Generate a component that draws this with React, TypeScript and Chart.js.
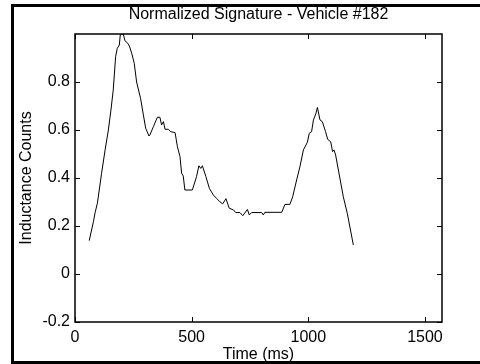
import React, { useEffect, useRef } from "react";
import { Chart, registerables } from "chart.js";

Chart.register(...registerables);

const TITLE = "Normalized Signature - Vehicle #182";
const X_LABEL = "Time (ms)";
const Y_LABEL = "Inductance Counts";

const X_TICKS = [0, 500, 1000, 1500];
const Y_TICKS = [-0.2, 0, 0.2, 0.4, 0.6, 0.8];

const timeMs = [
  61, 79, 86, 96, 114, 129, 143, 154, 164, 174, 181, 190, 194, 200, 207, 214, 224, 233, 243, 254,
  264, 281, 293, 303, 317, 321, 336, 353, 364, 371, 379, 386, 400, 410, 429, 439, 450, 457, 464, 471,
  503, 521, 531, 539, 546, 561, 576, 593, 607, 621, 633, 647, 661, 679, 689, 707, 719, 739, 747, 757,
  800, 807, 814, 886, 900, 921, 933, 950, 964, 979, 996, 1004, 1014, 1022, 1032, 1039, 1050, 1060, 1074, 1083,
  1096, 1104, 1110, 1117, 1150, 1167, 1193,
];

const inductance = [
  0.139, 0.218, 0.255, 0.295, 0.42, 0.517, 0.6, 0.683, 0.767, 0.905, 0.94, 0.954, 0.996, 1.0, 1.0, 0.972, 0.964, 0.95, 0.92, 0.878,
  0.8, 0.732, 0.663, 0.607, 0.575, 0.579, 0.614, 0.653, 0.653, 0.621, 0.635, 0.603, 0.603, 0.593, 0.589, 0.53, 0.489, 0.42, 0.408, 0.35,
  0.35, 0.406, 0.451, 0.44, 0.451, 0.406, 0.357, 0.329, 0.315, 0.301, 0.292, 0.314, 0.274, 0.267, 0.256, 0.256, 0.243, 0.269, 0.246, 0.256,
  0.256, 0.246, 0.257, 0.257, 0.29, 0.29, 0.322, 0.392, 0.447, 0.517, 0.549, 0.586, 0.593, 0.642, 0.667, 0.694, 0.642, 0.635, 0.593, 0.561,
  0.551, 0.51, 0.517, 0.496, 0.322, 0.253, 0.121,
];

const FONT = "'Liberation Sans', Arial, Helvetica, sans-serif";

const matlabFrame = {
  id: "matlabFrame",
  afterDatasetsDraw(chart: any) {
    const { ctx, chartArea, scales } = chart;
    const { left, right, top, bottom } = chartArea;
    ctx.save();
    ctx.strokeStyle = "#000";
    ctx.lineWidth = 1.5;
    ctx.strokeRect(left, top, right - left, bottom - top);
    ctx.lineWidth = 1;
    const tl = 5;
    const seg = (x1: number, y1: number, x2: number, y2: number) => {
      ctx.beginPath();
      ctx.moveTo(x1, y1);
      ctx.lineTo(x2, y2);
      ctx.stroke();
    };
    scales.x.ticks.forEach((t: any) => {
      const x = Math.round(scales.x.getPixelForValue(t.value)) + 0.5;
      seg(x, bottom, x, bottom - tl);
      seg(x, top, x, top + tl);
    });
    scales.y.ticks.forEach((t: any) => {
      const y = Math.round(scales.y.getPixelForValue(t.value)) + 0.5;
      seg(left, y, left + tl, y);
      seg(right, y, right - tl, y);
    });
    ctx.fillStyle = "#000";
    ctx.fillRect(11, 4, 3, 360);
    ctx.fillRect(11, 4, 469, 3);
    ctx.fillRect(11, 361, 469, 3);
    ctx.restore();
  },
};

export default function App() {
  const ref = useRef<HTMLCanvasElement | null>(null);

  useEffect(() => {
    if (!ref.current) return;
    const points = timeMs.map((t, i) => ({ x: t, y: inductance[i] }));
    const chart = new Chart(ref.current, {
      type: "line",
      data: {
        datasets: [
          {
            data: points,
            borderColor: "#000",
            borderWidth: 1,
            pointRadius: 0,
            tension: 0,
            fill: false,
          },
        ],
      },
      options: {
        animation: false,
        responsive: false,
        devicePixelRatio: 1,
        layout: { padding: { left: 0, right: 38, top: 0, bottom: 0 } },
        plugins: {
          legend: { display: false },
          tooltip: { enabled: false },
          title: {
            display: true,
            text: TITLE,
            fullSize: false,
            color: "#000",
            font: { family: FONT, size: 16, weight: "normal" },
            padding: { top: 5.4, bottom: 9.4 },
          },
        },
        scales: {
          x: {
            type: "linear",
            min: 0,
            max: 1573,
            afterBuildTicks: (s: any) => {
              s.ticks = X_TICKS.map((v) => ({ value: v }));
            },
            afterFit: (s: any) => {
              s.height = 42;
            },
            grid: { display: false, drawTicks: false },
            border: { display: false },
            ticks: {
              color: "#000",
              padding: 6,
              maxRotation: 0,
              font: { family: FONT, size: 16 },
              callback: (v: any) => String(v),
            },
            title: {
              display: true,
              text: X_LABEL,
              color: "#000",
              font: { family: FONT, size: 16 },
              padding: { top: 0, bottom: 0 },
            },
          },
          y: {
            type: "linear",
            min: -0.2,
            max: 1.0,
            afterBuildTicks: (s: any) => {
              s.ticks = Y_TICKS.map((v) => ({ value: v }));
            },
            afterFit: (s: any) => {
              s.width = 75;
            },
            grid: { display: false, drawTicks: false },
            border: { display: false },
            ticks: {
              color: "#000",
              padding: 5,
              font: { family: FONT, size: 16 },
              callback: (v: any) => String(Math.round(Number(v) * 10) / 10),
            },
            title: {
              display: true,
              text: Y_LABEL,
              color: "#000",
              font: { family: FONT, size: 16 },
              padding: { top: 17.4, bottom: 0 },
            },
          },
        },
      },
      plugins: [matlabFrame],
    });
    return () => chart.destroy();
  }, []);

  return (
    <div style={{ position: "fixed", left: 0, top: 0, width: 480, height: 364, background: "#fff" }}>
      <canvas ref={ref} width={480} height={364} style={{ display: "block" }} />
    </div>
  );
}
